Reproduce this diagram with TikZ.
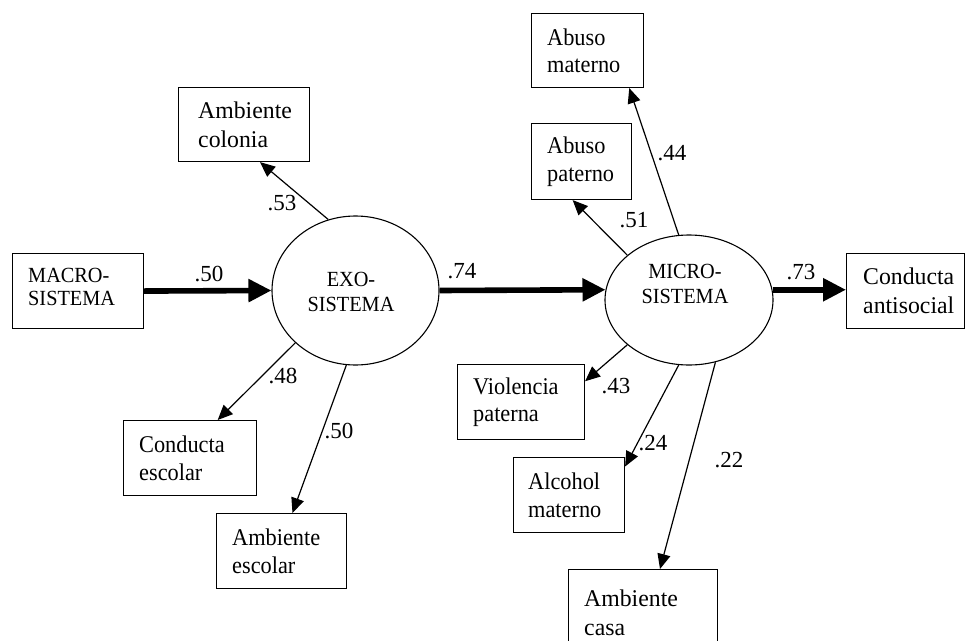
\documentclass[tikz,border=0pt]{standalone}
\usepackage{fontspec}
\setmainfont{Liberation Serif}[FakeStretch=0.93]
\newfontfamily\bigfont{Liberation Serif}[FakeStretch=0.99]
\newfontfamily\capsfont{Liberation Serif}[FakeStretch=0.94]
\newfontfamily\numfont{Liberation Serif}[FakeStretch=1.0]
\usetikzlibrary{arrows.meta,shapes.geometric,calc}
\begin{document}
\begin{tikzpicture}[x=1pt,y=-1pt,
  boxshape/.style={draw, line width=1.1pt, anchor=north west, inner sep=0pt, minimum height=75pt},
  boxtxt/.style={anchor=west, inner sep=0pt, align=left, font=\fontsize{24}{27.5}\selectfont},
  bigtxt/.style={anchor=west, inner sep=0pt, align=left, font=\bigfont\fontsize{24}{29}\selectfont},
  capstxt/.style={inner sep=0pt, align=center, font=\capsfont\fontsize{21.6}{25}\selectfont},
  latent/.style={ellipse, draw, line width=1.1pt, inner sep=0pt},
  lab/.style={inner sep=0pt, font=\numfont\fontsize{23}{25}\selectfont},
  thin/.style={-{Triangle[length=15pt,width=13pt]}, line width=1.2pt},
  thickarr/.style={-{Triangle[length=23pt,width=22pt]}, line width=5.6pt}]
\useasboundingbox (0,0) rectangle (966,640);

% latent variables
\node[latent, minimum width=167pt, minimum height=149pt] (exo) at (355.5,290.5) {};
\node[capstxt] (exoT) at (351,291.5) {EXO-\\SISTEMA};
\node[latent, minimum width=168pt, minimum height=130pt] (micro) at (689,300) {};
\node[capstxt] (microT) at (685,283.5) {MICRO-\\SISTEMA};

% boxes
\node[boxshape, minimum width=131pt] (macro) at (12,253) {};
\node[boxtxt, anchor=west, font=\capsfont\fontsize{21.6}{23.5}\selectfont] (macroT) at ([xshift=16pt,yshift=4pt]macro.west) {MACRO-\\SISTEMA};

\node[boxshape, minimum width=131pt, minimum height=74pt] (colonia) at (178,87) {};
\node[bigtxt] (coloniaT) at ([xshift=20pt]colonia.west) {Ambiente\\colonia};

\node[boxshape, minimum width=133pt] (cesc) at (123,420) {};
\node[boxtxt] (cescT) at ([xshift=16pt]cesc.west) {Conducta\\escolar};

\node[boxshape, minimum width=130pt] (aesc) at (216,513) {};
\node[boxtxt] (aescT) at ([xshift=16pt]aesc.west) {Ambiente\\escolar};

\node[boxshape, minimum width=112pt, minimum height=74pt] (amat) at (531,13) {};
\node[boxtxt] (amatT) at ([xshift=16pt]amat.west) {Abuso\\materno};

\node[boxshape, minimum width=100pt, minimum height=76pt] (apat) at (531,123) {};
\node[boxtxt] (apatT) at ([xshift=16pt]apat.west) {Abuso\\paterno};

\node[boxshape, minimum width=118pt] (anti) at (846,253) {};
\node[bigtxt] (antiT) at ([xshift=17pt]anti.west) {Conducta\\antisocial};

\node[boxshape, minimum width=127pt] (viol) at (457,364) {};
\node[boxtxt] (violT) at ([xshift=16pt]viol.west) {Violencia\\paterna};

\node[boxshape, minimum width=111pt] (alc) at (513,457) {};
\node[boxtxt] (alcT) at ([xshift=15pt]alc.west) {Alcohol\\materno};

\node[boxshape, minimum width=149pt] (casa) at (568,569) {};
\node[bigtxt] (casaT) at ([xshift=16pt,yshift=-6pt]casa.west) {Ambiente\\casa};

% structural paths
\draw[thickarr] (macro.east) -- (exo.west);
\draw[thickarr] (exo.east) -- (micro.173);
\draw[thickarr] (micro.7) -- (micro.7 -| anti.west);

% exo indicators
\draw[thin] (exo.111.6) -- (colonia.-67);
\draw[thin] (exo.-139.6) -- (cesc.54);
\draw[thin] (exo.-97.3) -- (aesc.74);

% micro indicators
\draw[thin] (micro.99.3) -- (amat.-42);
\draw[thin] (micro.144) -- (apat.-103);
\draw[thin] (micro.-144.5) -- (viol.18);
\draw[thin] (micro.-99.3) -- (alc.27);
\draw[thin] (micro.-67.4) -- (casa.66);

% coefficients
\node[lab] (c1) at (209,274) {.50};
\node[lab] (c2) at (462,271) {.74};
\node[lab] (c3) at (801,272) {.73};
\node[lab] (c4) at (282,203) {.53};
\node[lab] (c5) at (283,376) {.48};
\node[lab] (c6) at (339,431) {.50};
\node[lab] (c7) at (672,153) {.44};
\node[lab] (c8) at (634,220) {.51};
\node[lab] (c9) at (616,386) {.43};
\node[lab] (c10) at (653,443) {.24};
\node[lab] (c11) at (729,460) {.22};
\end{tikzpicture}
\end{document}
